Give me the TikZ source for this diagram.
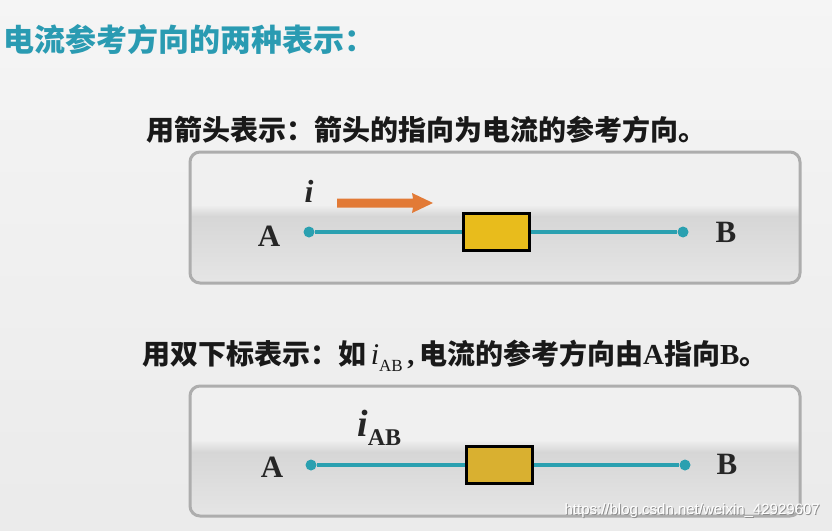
\documentclass[tikz,border=0pt]{standalone}
\usepackage{fontspec}
\setmainfont{Liberation Serif}
\newfontfamily\cjk{Noto Sans CJK SC}
\newfontfamily\wmfont{Liberation Sans}
\usetikzlibrary{arrows.meta}
\definecolor{titleteal}{HTML}{2A9BB2}
\definecolor{wireteal}{HTML}{2AA0B0}
\definecolor{boxedge}{HTML}{ADADAD}
\definecolor{orangearrow}{HTML}{E27A36}
\definecolor{resA}{HTML}{E8BC1C}
\definecolor{resB}{HTML}{D9B030}
\tikzset{
  panel/.style={draw=boxedge, line width=3pt, rounded corners=10pt},
  wire/.style={wireteal, line width=3.2pt},
  dotnode/.style={circle, fill=wireteal, inner sep=0pt, minimum size=11pt},
  resistor/.style={draw=black, line width=3pt, minimum width=66pt, minimum height=37pt, inner sep=0pt},
  letter/.style={font=\bfseries\fontsize{31}{31}\selectfont, inner sep=0pt, text=black!85},
  subtitle/.style={anchor=west, inner sep=0pt, font=\cjk\bfseries\fontsize{28}{28}\selectfont, text=black!90},
}
\begin{document}
\begin{tikzpicture}[x=1pt,y=-1pt]
\useasboundingbox (0,0) rectangle (832,530);
\shade[top color=white!96!black, bottom color=white!92!black] (0,0) rectangle (832,530);

% title
\node[anchor=west, inner sep=0pt, text=titleteal, font=\cjk\bfseries\fontsize{31}{31}\selectfont] (title) at (3,40) {电流参考方向的两种表示：};

% subtitle 1
\node[subtitle] (sub1) at (146,130) {用箭头表示：箭头的指向为电流的参考方向。};

% panel 1
\begin{scope}
  \clip[rounded corners=10pt] (190,152) rectangle (800,283);
  \fill[white!94!black] (190,152) rectangle (800,283);
  \shade[top color=white!94!black, bottom color=white!84!black] (190,205) rectangle (800,216);
  \shade[top color=white!84!black, bottom color=white!90!black] (190,216) rectangle (800,283);
\end{scope}
\draw[panel] (190,152) rectangle (800,283);

\node[dotnode] (a1) at (309,232) {};
\node[dotnode] (b1) at (683,232) {};
\node[resistor, fill=resA] (r1) at (496.5,232) {};
\draw[wire] (a1) -- (r1.west);
\draw[wire] (r1.east) -- (b1);
\node[letter] (A1) at (269,236) {A};
\node[letter] (B1) at (726,232) {B};
\node[inner sep=0pt, font=\bfseries\itshape\fontsize{32}{32}\selectfont, text=black!85] (i1) at (309,191) {i};
\fill[orangearrow] (337,198.5) -- (413,198.5) -- (412,193) -- (433,203) -- (412,213) -- (413,207.5) -- (337,207.5) -- cycle;

% subtitle 2
\node[subtitle] (sub2) at (142,356) {用双下标表示：如\,{\rmfamily\mdseries\fontsize{30}{30}\selectfont\itshape i}\raisebox{-7pt}{\rmfamily\mdseries\fontsize{17}{17}\selectfont AB}\,{\rmfamily\fontsize{28}{28}\selectfont ,}\,电流的参考方向由{\rmfamily\fontsize{29}{29}\selectfont A}指向{\rmfamily\fontsize{29}{29}\selectfont B}。};

% panel 2
\begin{scope}
  \clip[rounded corners=10pt] (190,386) rectangle (800,516);
  \fill[white!94!black] (190,386) rectangle (800,516);
  \shade[top color=white!94!black, bottom color=white!84!black] (190,440) rectangle (800,452);
  \shade[top color=white!84!black, bottom color=white!90!black] (190,452) rectangle (800,516);
\end{scope}
\draw[panel] (190,386) rectangle (800,516);

\node[dotnode] (a2) at (311,465) {};
\node[dotnode] (b2) at (685,465) {};
\node[resistor, fill=resB] (r2) at (499,465) {};
\draw[wire] (a2) -- (r2.west);
\draw[wire] (r2.east) -- (b2);
\node[letter] (A2) at (272,467) {A};
\node[letter] (B2) at (727,464) {B};
\node[anchor=west, inner sep=0pt, text=black!85] (i2) at (357,428) {{\bfseries\itshape\fontsize{38}{38}\selectfont i}\raisebox{-9pt}{\bfseries\fontsize{24}{24}\selectfont AB}};

% watermark
\node[anchor=east, inner sep=0pt, font=\wmfont\fontsize{15}{15}\selectfont, text=black!45] (wmshadow) at (821,512) {https://blog.csdn.net/weixin\_42929607};
\node[anchor=east, inner sep=0pt, font=\wmfont\fontsize{15}{15}\selectfont, text=white] (wm) at (820,511) {https://blog.csdn.net/weixin\_42929607};
\end{tikzpicture}
\end{document}
